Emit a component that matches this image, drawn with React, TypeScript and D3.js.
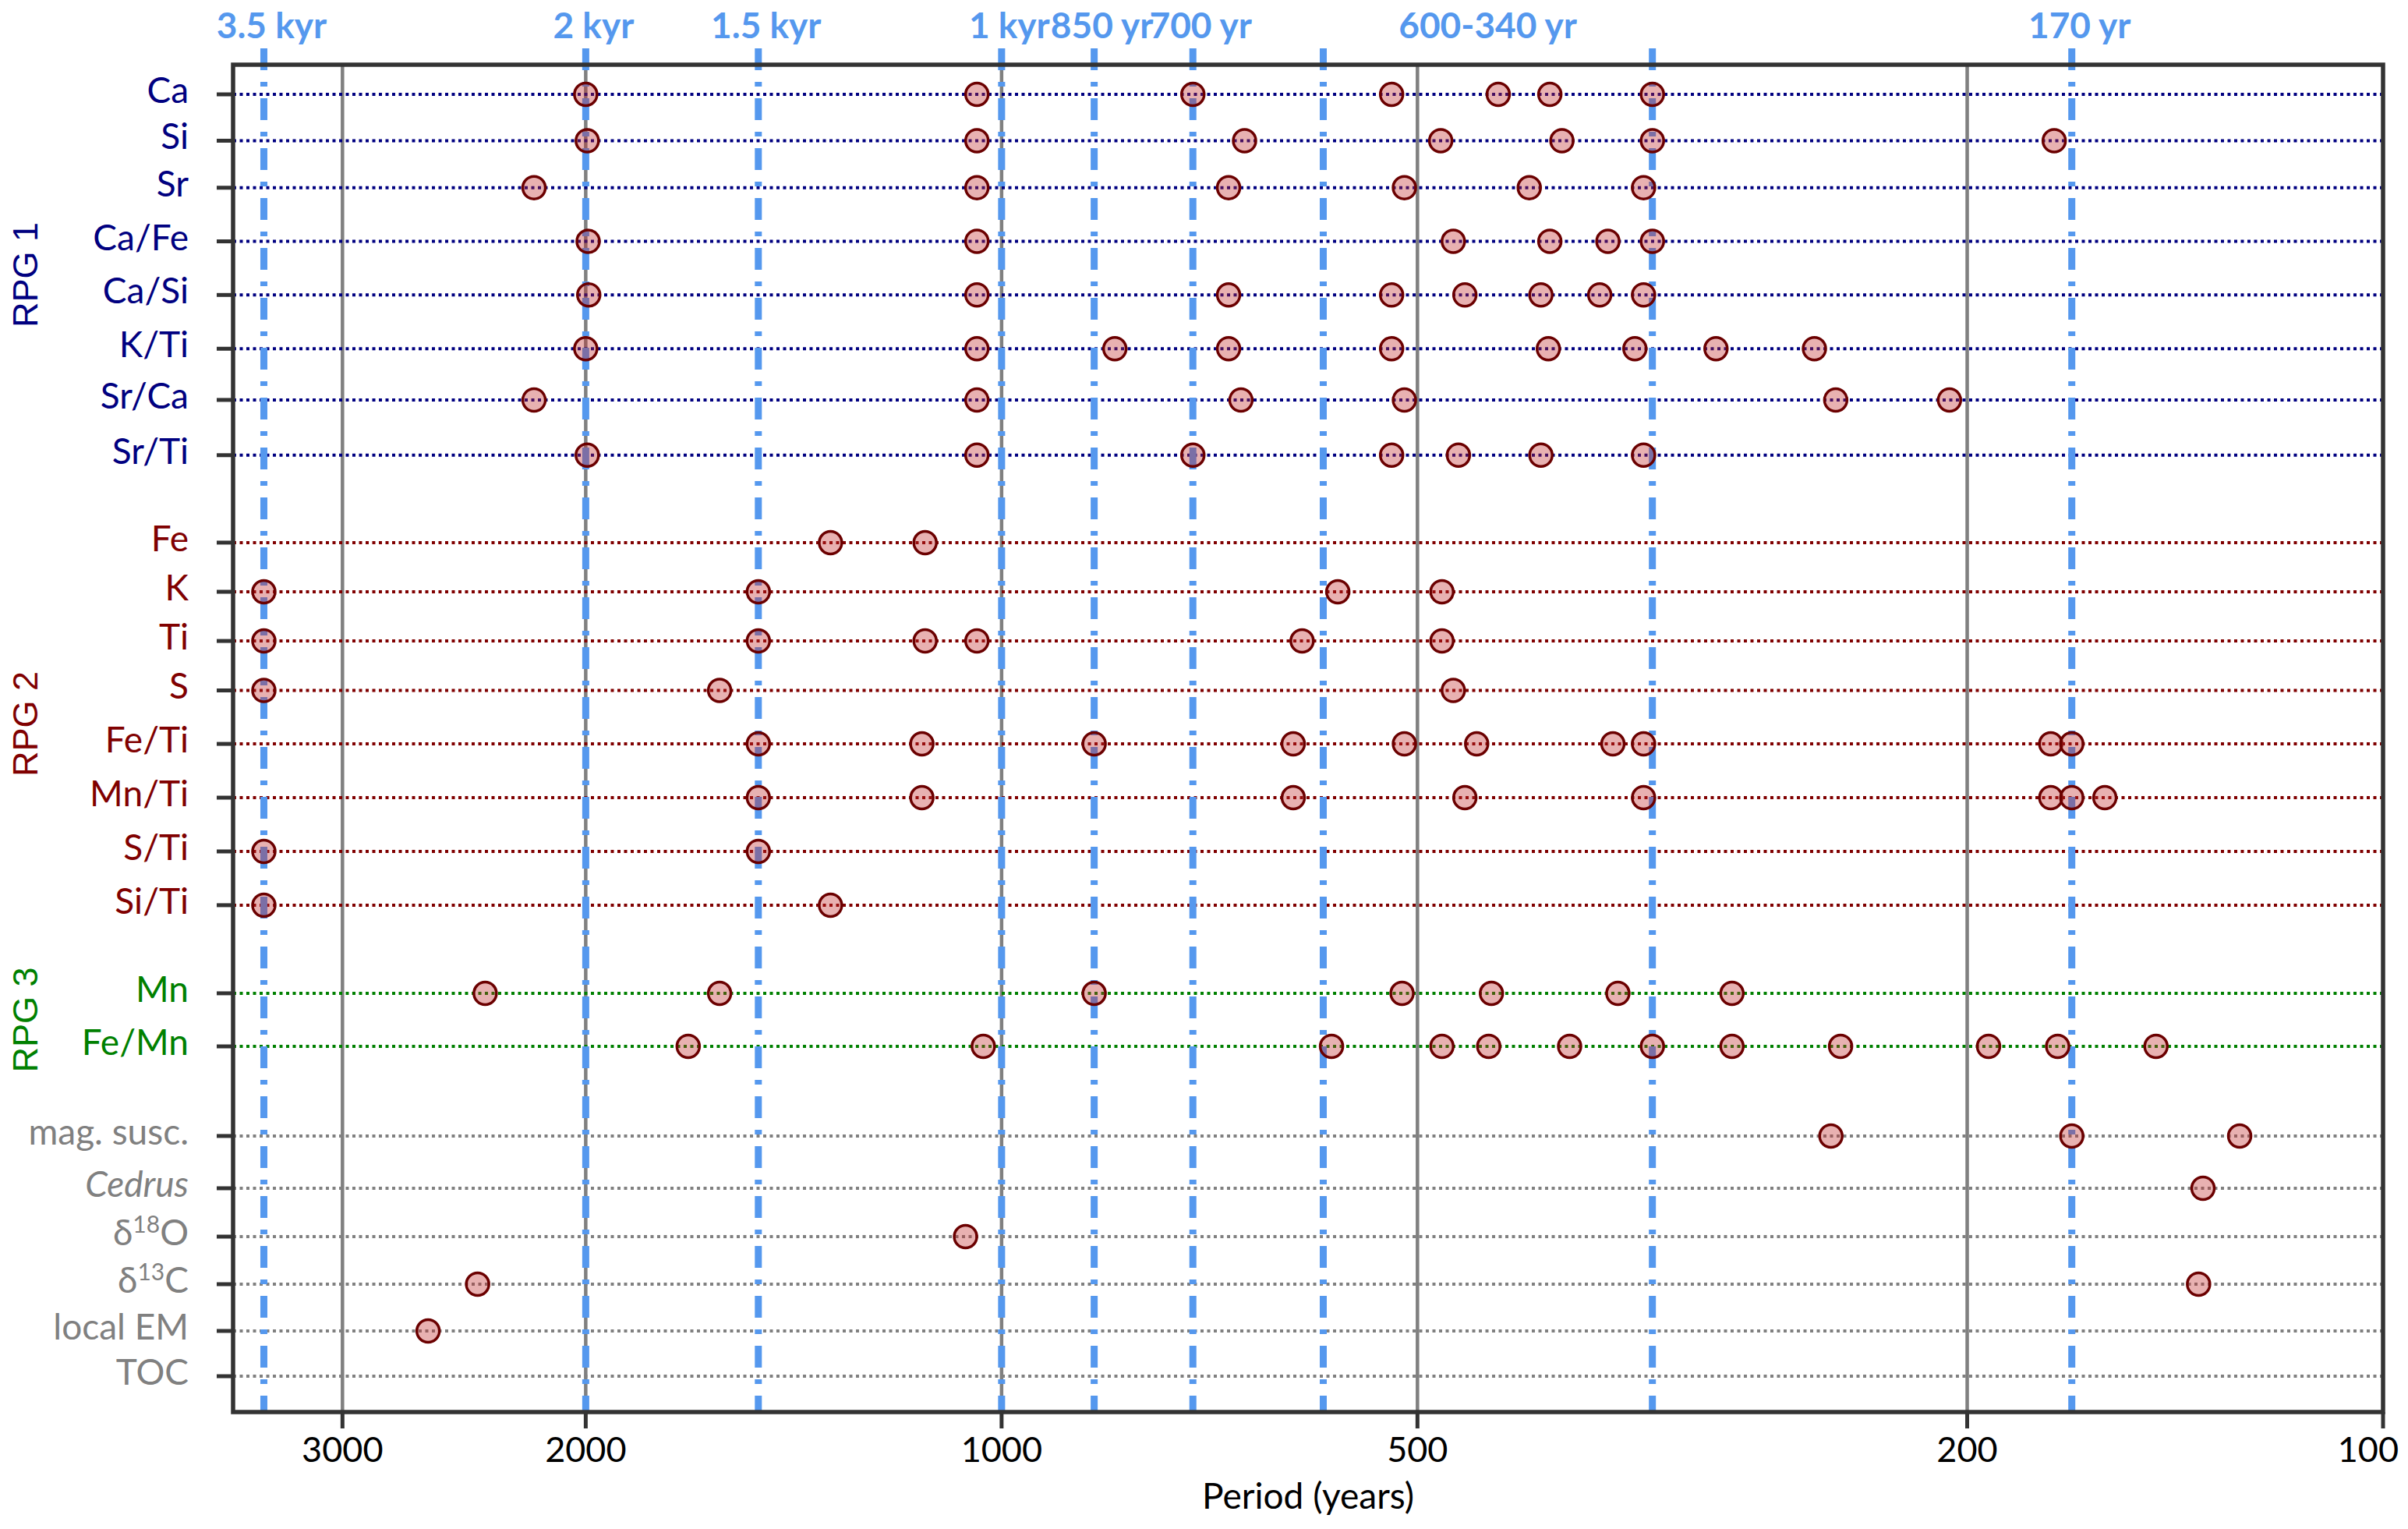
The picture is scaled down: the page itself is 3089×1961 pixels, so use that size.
import React, { useEffect, useRef } from 'react';
import * as d3 from 'd3';

// rows of the chart, top to bottom
const rowLabels = [
  'Ca', 'Si', 'Sr', 'Ca/Fe', 'Ca/Si', 'K/Ti', 'Sr/Ca', 'Sr/Ti',
  'Fe', 'K', 'Ti', 'S', 'Fe/Ti', 'Mn/Ti', 'S/Ti', 'Si/Ti',
  'Mn', 'Fe/Mn',
  'mag. susc.', 'Cedrus', 'δ18O', 'δ13C', 'local EM', 'TOC',
];
// group of each row (0 = other proxies)
const rowGroup = [1, 1, 1, 1, 1, 1, 1, 1, 2, 2, 2, 2, 2, 2, 2, 2, 3, 3, 0, 0, 0, 0, 0, 0];
// vertical level of each row (0 = top of frame, 100 = bottom)
const rowLevels = [
  2.2, 5.64, 9.13, 13.11, 17.09, 21.08, 24.88, 28.98,
  35.47, 39.12, 42.77, 46.44, 50.41, 54.4, 58.39, 62.38,
  68.92, 72.86,
  79.51, 83.39, 86.98, 90.51, 93.98, 97.34,
];
// significant periods (years) per row
const rowPeriods: number[][] = [
  [2000, 1042, 727, 522, 437, 401, 338],
  [1995, 1042, 667, 481, 393, 338, 173],
  [2180, 1042, 685, 511, 415, 343],
  [1992, 1042, 471, 401, 364, 338],
  [1990, 1042, 685, 522, 462, 407, 369, 343],
  [2000, 1042, 828, 685, 522, 402, 348, 304, 258],
  [2180, 1042, 671, 511, 249, 206],
  [1995, 1042, 727, 522, 467, 407, 343],
  [1330, 1136],
  [3420, 1500, 571, 480],
  [3420, 1500, 1136, 1042, 606, 480],
  [3420, 1600, 471],
  [1500, 1142, 857, 615, 511, 453, 361, 343, 174, 168],
  [1500, 1142, 615, 462, 343, 174, 168, 159],
  [3420, 1500],
  [3420, 1330],
  [2365, 1600, 857, 513, 442, 358, 296],
  [1686, 1031, 577, 480, 444, 388, 338, 296, 247, 193, 172, 146],
  [251, 168, 127],
  [135],
  [1062],
  [2395, 136],
  [2601],
  [],
];

const groupNames = ['RPG 1', 'RPG 2', 'RPG 3'];
const groupColors = ['#808080', '#000080', '#800000', '#008000'];

// common cycles (vertical blue lines) and their labels
const cyclePeriods = [3420, 2000, 1500, 1000, 857, 727, 585, 338, 168];
const cycleLabels = ['3.5 kyr', '2 kyr', '1.5 kyr', '1 kyr', '850 yr', '700 yr', '600-340 yr', '170 yr'];
const cycleLabelFrom = [3420, 2000, 1500, 1000, 857, 727, 585, 168];
const cycleLabelTo = [3420, 2000, 1500, 1000, 857, 727, 338, 168];

const xTicks = [3000, 2000, 1000, 500, 200, 100];

const W = 3089;
const H = 1961;
const FONT = 'Lato, "Liberation Sans", sans-serif';
const BLUE = '#5598EE';

const App: React.FC = () => {
  const svgRef = useRef<SVGSVGElement>(null);

  useEffect(() => {
    if (!svgRef.current) return;
    const svg = d3.select(svgRef.current);
    svg.selectAll('*').remove();

    const left = 299, right = 3057, top = 83, bottom = 1811;

    const x = d3.scaleLog().domain([3600, 100]).range([left, right]);
    const y = d3.scaleLinear().domain([0, 100]).range([top, bottom]);

    // vertical gray gridlines
    svg.append('g')
      .selectAll('line')
      .data(xTicks.filter(t => t !== 100))
      .join('line')
      .attr('x1', d => x(d)).attr('x2', d => x(d))
      .attr('y1', top).attr('y2', bottom)
      .attr('stroke', '#808080')
      .attr('stroke-width', 4.5);

    // horizontal dotted row lines
    svg.append('g')
      .selectAll('line')
      .data(rowLabels)
      .join('line')
      .attr('x1', left).attr('x2', right)
      .attr('y1', (_, i) => y(rowLevels[i]))
      .attr('y2', (_, i) => y(rowLevels[i]))
      .attr('stroke', (_, i) => groupColors[rowGroup[i]])
      .attr('stroke-width', 4)
      .attr('stroke-dasharray', '4 4.5');

    // blue dash-dot cycle lines
    svg.append('g')
      .selectAll('line')
      .data(cyclePeriods)
      .join('line')
      .attr('x1', d => x(d)).attr('x2', d => x(d))
      .attr('y1', 62).attr('y2', bottom)
      .attr('stroke', BLUE)
      .attr('stroke-width', 9)
      .attr('stroke-dasharray', '28 15 6 15');

    // cycle labels
    svg.append('g')
      .selectAll('text')
      .data(cycleLabels)
      .join('text')
      .attr('x', (_, i) => {
        const a = x(cycleLabelFrom[i]);
        const b = x(cycleLabelTo[i]);
        return a === b ? a + 10 : (a + b) / 2;
      })
      .attr('y', 49)
      .attr('text-anchor', 'middle')
      .attr('font-family', FONT)
      .attr('font-weight', 'bold')
      .attr('font-size', 46)
      .attr('fill', BLUE)
      .text(d => d);

    // circles
    const pts = rowPeriods.flatMap((ps, i) => ps.map(p => ({ p, lv: rowLevels[i] })));
    svg.append('g')
      .selectAll('circle')
      .data(pts)
      .join('circle')
      .attr('cx', d => x(d.p))
      .attr('cy', d => y(d.lv))
      .attr('r', 14.5)
      .attr('fill', 'rgba(190,40,40,0.36)')
      .attr('stroke', '#6B0000')
      .attr('stroke-width', 3.5);

    // frame
    svg.append('rect')
      .attr('x', left).attr('y', top)
      .attr('width', right - left).attr('height', bottom - top)
      .attr('fill', 'none')
      .attr('stroke', '#333333')
      .attr('stroke-width', 5.5);

    // left ticks at rows
    svg.append('g')
      .selectAll('line')
      .data(rowLevels)
      .join('line')
      .attr('x1', left - 21).attr('x2', left)
      .attr('y1', d => y(d)).attr('y2', d => y(d))
      .attr('stroke', '#333333')
      .attr('stroke-width', 5);

    // row labels
    const labels = svg.append('g')
      .selectAll('text')
      .data(rowLabels)
      .join('text')
      .attr('x', 242)
      .attr('y', (_, i) => y(rowLevels[i]) + 11)
      .attr('text-anchor', 'end')
      .attr('font-family', FONT)
      .attr('font-size', 46)
      .attr('fill', (_, i) => groupColors[rowGroup[i]])
      .attr('font-style', d => (d === 'Cedrus' ? 'italic' : 'normal'));
    labels.each(function (d) {
      const t = d3.select(this);
      const m = /^δ(\d+)(\w+)$/.exec(d);
      if (m) {
        t.append('tspan').text('δ');
        t.append('tspan').attr('dy', -16).attr('font-size', 30).text(m[1]);
        t.append('tspan').attr('dy', 16).text(m[2]);
      } else {
        t.text(d);
      }
    });

    // group labels (rotated)
    groupNames.forEach((g, gi) => {
      const lv = rowLevels.filter((_, i) => rowGroup[i] === gi + 1);
      const cy = (y(d3.min(lv)!) + y(d3.max(lv)!)) / 2;
      svg.append('text')
        .attr('transform', `translate(48,${cy}) rotate(-90)`)
        .attr('text-anchor', 'middle')
        .attr('font-family', '"Liberation Sans", Arial, sans-serif')
        .attr('font-size', 45)
        .attr('fill', groupColors[gi + 1])
        .text(g);
    });

    // x axis ticks and labels
    const xa = svg.append('g');
    xa.selectAll('line')
      .data(xTicks)
      .join('line')
      .attr('x1', d => x(d)).attr('x2', d => x(d))
      .attr('y1', bottom).attr('y2', bottom + 21)
      .attr('stroke', '#333333')
      .attr('stroke-width', 5);
    xa.selectAll('text')
      .data(xTicks)
      .join('text')
      .attr('x', d => (d === 100 ? x(d) + 20 : x(d)))
      .attr('y', 1875)
      .attr('text-anchor', d => (d === 100 ? 'end' : 'middle'))
      .attr('font-family', FONT)
      .attr('font-size', 45)
      .attr('fill', '#000')
      .text(d => String(d));

    svg.append('text')
      .attr('x', (left + right) / 2)
      .attr('y', 1935)
      .attr('text-anchor', 'middle')
      .attr('font-family', FONT)
      .attr('font-size', 46)
      .attr('fill', '#000')
      .text('Period (years)');
  }, []);

  return (
    <svg
      ref={svgRef}
      width={W}
      height={H}
      style={{ position: 'absolute', left: 0, top: 0, background: '#fff' }}
    />
  );
};

export default App;
